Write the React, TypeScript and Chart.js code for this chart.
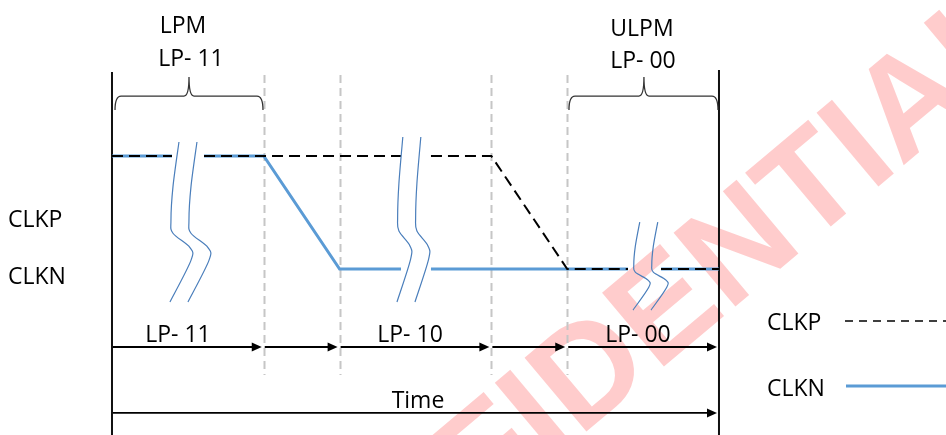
import React, { useEffect, useRef } from 'react';
import { Chart, registerables } from 'chart.js';

Chart.register(...registerables);

// ---- Data (time in phase units, level: 1 = high LP state, 0 = low) ----
const PHASE_BOUNDS = [0, 2, 3, 5, 6, 8];
const PHASE_LABELS = ['LP- 11', 'LP- 10', 'LP- 00'];
const PHASE_LABEL_T = [0.87, 3.928, 6.932];

const CLKP_T = [0, 0.791, 1.0, 1.213, 3.809, 4.0, 4.204, 5, 6, 6.801, 7.0, 7.236, 8];
const CLKP_V = [1, 1, null, 1, 1, null, 1, 1, 0, 0, null, 0, 0];

const CLKN_T = [0, 0.791, 1.0, 1.213, 2, 3, 3.809, 4.0, 4.204, 6, 6.801, 7.0, 7.236, 8];
const CLKN_V = [1, 1, null, 1, 1, 0, 0, null, 0, 0, 0, null, 0, 0];

// Mode braces at the top: [start, end, tip]
const BRACE_SPANS = [
  [0.04, 1.99, 1.015],
  [6.023, 7.987, 7.011],
];
const BRACE_TITLES = [
  ['LPM', 'LP- 11'],
  ['ULPM', 'LP- 00'],
];
const BRACE_TITLE_T = [
  [0.936, 1.041],
  [6.985, 6.998],
];

// Break markers: anchor t, top level, bottom level, width scale
const BREAK_T = [0.764, 3.756, 6.867];
const BREAK_TOP = [1.124, 1.168, 0.416];
const BREAK_BOTTOM = [-0.292, -0.292, -0.363];
const BREAK_SCALE = [1, 0.65, 0.75];

const X_MIN = -1.476;
const X_MAX = 10.992;
const Y_MIN = -1.469;
const Y_MAX = 2.381;

const FONT = '23px "Open Sans", sans-serif';

function drawArrow(ctx: CanvasRenderingContext2D, x1: number, x2: number, y: number) {
  ctx.beginPath();
  ctx.moveTo(x1, y);
  ctx.lineTo(x2 - 8, y);
  ctx.stroke();
  ctx.beginPath();
  ctx.moveTo(x2, y);
  ctx.lineTo(x2 - 10, y - 4.5);
  ctx.lineTo(x2 - 10, y + 4.5);
  ctx.closePath();
  ctx.fill();
}

function smoothCurve(ctx: CanvasRenderingContext2D, pts: number[][]) {
  ctx.beginPath();
  ctx.moveTo(pts[0][0], pts[0][1]);
  for (let i = 0; i < pts.length - 1; i++) {
    const p0 = pts[i - 1] || pts[i];
    const p1 = pts[i];
    const p2 = pts[i + 1];
    const p3 = pts[i + 2] || p2;
    ctx.bezierCurveTo(
      p1[0] + (p2[0] - p0[0]) / 6, p1[1] + (p2[1] - p0[1]) / 6,
      p2[0] - (p3[0] - p1[0]) / 6, p2[1] - (p3[1] - p1[1]) / 6,
      p2[0], p2[1]
    );
  }
  ctx.stroke();
}

// break-mark template: [dx px, fraction of height]
const BREAK_SHAPE = [[9, 0], [3, 0.28], [1, 0.49], [3, 0.57], [20, 0.66], [21, 0.74], [0, 1]];

const diagramPlugin = {
  id: 'diagram',
  beforeDatasetsDraw(chart: any) {
    const { ctx } = chart;
    const xs = chart.scales.x, ys = chart.scales.y;
    const X = (t: number) => xs.getPixelForValue(t);
    const Y = (v: number) => ys.getPixelForValue(v);

    // watermark
    ctx.save();
    ctx.translate(X(6.695), Y(-0.743));
    ctx.rotate((-40 * Math.PI) / 180);
    ctx.font = 'bold 140px "Liberation Sans", Arial, sans-serif';
    ctx.fillStyle = 'rgba(255, 0, 0, 0.2)';
    ctx.textAlign = 'center';
    ctx.textBaseline = 'middle';
    ctx.fillText('CONFIDENTIAL', 0, 0);
    ctx.restore();

    // gray dashed phase boundaries
    ctx.save();
    ctx.strokeStyle = '#c6c6c6';
    ctx.lineWidth = 2;
    ctx.setLineDash([8, 5]);
    PHASE_BOUNDS.slice(1, -1).forEach((b) => {
      ctx.beginPath();
      ctx.moveTo(Math.round(X(b)) + 0.5, Y(1.717));
      ctx.lineTo(Math.round(X(b)) + 0.5, Y(-0.938));
      ctx.stroke();
    });
    ctx.restore();

    // black frame lines
    ctx.save();
    ctx.strokeStyle = '#111';
    ctx.lineWidth = 2;
    ctx.beginPath();
    ctx.moveTo(X(PHASE_BOUNDS[0]), Y(1.743));
    ctx.lineTo(X(PHASE_BOUNDS[0]), Y(Y_MIN));
    ctx.moveTo(X(PHASE_BOUNDS[5]), Y(1.761));
    ctx.lineTo(X(PHASE_BOUNDS[5]), Y(Y_MIN));
    ctx.stroke();
    ctx.restore();
  },
  afterDatasetsDraw(chart: any) {
    const { ctx } = chart;
    const xs = chart.scales.x, ys = chart.scales.y;
    const X = (t: number) => xs.getPixelForValue(t);
    const Y = (v: number) => ys.getPixelForValue(v);

    // break markers
    ctx.save();
    ctx.strokeStyle = '#4a7ebb';
    ctx.lineWidth = 1.2;
    BREAK_T.forEach((bt, i) => {
      const ax = X(bt);
      const top = Y(BREAK_TOP[i]);
      const bot = Y(BREAK_BOTTOM[i]);
      [0, 18].forEach((off) => {
        const pts = BREAK_SHAPE.map(([dx, f]) => [ax + dx * BREAK_SCALE[i] + off, top + f * (bot - top)]);
        smoothCurve(ctx, pts);
      });
    });
    ctx.restore();

    // braces
    ctx.save();
    ctx.strokeStyle = '#333';
    ctx.lineWidth = 1.3;
    BRACE_SPANS.forEach(([a, b, m]) => {
      const x1 = X(a), x2 = X(b), xm = X(m);
      const yh = Y(1.531), ye = Y(1.407), yt = Y(1.699);
      ctx.beginPath();
      ctx.moveTo(x1, ye);
      ctx.quadraticCurveTo(x1, yh, x1 + 6, yh);
      ctx.lineTo(xm - 5, yh);
      ctx.quadraticCurveTo(xm, yh, xm, yt);
      ctx.quadraticCurveTo(xm, yh, xm + 5, yh);
      ctx.lineTo(x2 - 6, yh);
      ctx.quadraticCurveTo(x2, yh, x2, ye);
      ctx.stroke();
    });
    ctx.restore();

    // arrows
    ctx.save();
    ctx.strokeStyle = '#000';
    ctx.fillStyle = '#000';
    ctx.lineWidth = 1.8;
    for (let i = 0; i < PHASE_BOUNDS.length - 1; i++) {
      drawArrow(ctx, X(PHASE_BOUNDS[i]) + 1, X(PHASE_BOUNDS[i + 1]) - 2, Y(-0.69));
    }
    drawArrow(ctx, X(PHASE_BOUNDS[0]) + 1, X(PHASE_BOUNDS[5]) - 2, Y(-1.274));
    ctx.restore();

    // texts
    ctx.save();
    ctx.font = FONT;
    ctx.fillStyle = '#000';
    ctx.textBaseline = 'alphabetic';
    ctx.textAlign = 'center';
    BRACE_TITLES.forEach((pair, i) => {
      ctx.fillText(pair[0], X(BRACE_TITLE_T[i][0]), Y(i === 0 ? 2.088 : 2.062));
      ctx.fillText(pair[1], X(BRACE_TITLE_T[i][1]), Y(i === 0 ? 1.796 : 1.779));
    });
    PHASE_LABELS.forEach((lbl, i) => ctx.fillText(lbl, X(PHASE_LABEL_T[i]), Y(-0.646)));
    ctx.fillText('Time', X(4.033), Y(-1.23));
    ctx.textAlign = 'left';
    ctx.fillText('CLKP', X(-1.371), Y(0.372));
    ctx.fillText('CLKN', X(-1.371), Y(-0.133));

    // legend
    ctx.fillText('CLKP', X(8.633), Y(-0.54));
    ctx.fillText('CLKN', X(8.633), Y(-1.124));
    ctx.strokeStyle = '#000';
    ctx.lineWidth = 1.6;
    ctx.setLineDash([8, 6]);
    ctx.beginPath();
    ctx.moveTo(X(9.661), Y(-0.46));
    ctx.lineTo(X(X_MAX), Y(-0.46));
    ctx.stroke();
    ctx.setLineDash([]);
    ctx.strokeStyle = '#5b9bd5';
    ctx.lineWidth = 3;
    ctx.beginPath();
    ctx.moveTo(X(9.674), Y(-1.035));
    ctx.lineTo(X(X_MAX), Y(-1.035));
    ctx.stroke();
    ctx.restore();
  },
};

export default function App() {
  const ref = useRef<HTMLCanvasElement>(null);
  useEffect(() => {
    const chart = new Chart(ref.current as HTMLCanvasElement, {
      type: 'line',
      data: {
        datasets: [
          {
            label: 'CLKP',
            data: CLKP_T.map((t, i) => ({ x: t, y: CLKP_V[i] })) as any,
            borderColor: '#000',
            borderWidth: 2,
            borderDash: [11, 6],
            pointRadius: 0,
            tension: 0,
            spanGaps: false,
            fill: false,
            order: 0,
          },
          {
            label: 'CLKN',
            data: CLKN_T.map((t, i) => ({ x: t, y: CLKN_V[i] })) as any,
            borderColor: '#5b9bd5',
            borderWidth: 3,
            pointRadius: 0,
            tension: 0,
            spanGaps: false,
            fill: false,
            order: 1,
          },
        ],
      },
      options: {
        responsive: false,
        animation: false,
        devicePixelRatio: 1,
        events: [],
        layout: { padding: 0 },
        plugins: { legend: { display: false }, tooltip: { enabled: false } },
        scales: {
          x: { type: 'linear', display: false, min: X_MIN, max: X_MAX },
          y: { type: 'linear', display: false, min: Y_MIN, max: Y_MAX },
        },
      },
      plugins: [diagramPlugin],
    });
    return () => chart.destroy();
  }, []);
  return (
    <div style={{ position: 'fixed', left: 0, top: 0, width: 946, height: 435, background: '#fff' }}>
      <canvas ref={ref} width={946} height={435} style={{ display: 'block' }} />
    </div>
  );
}
